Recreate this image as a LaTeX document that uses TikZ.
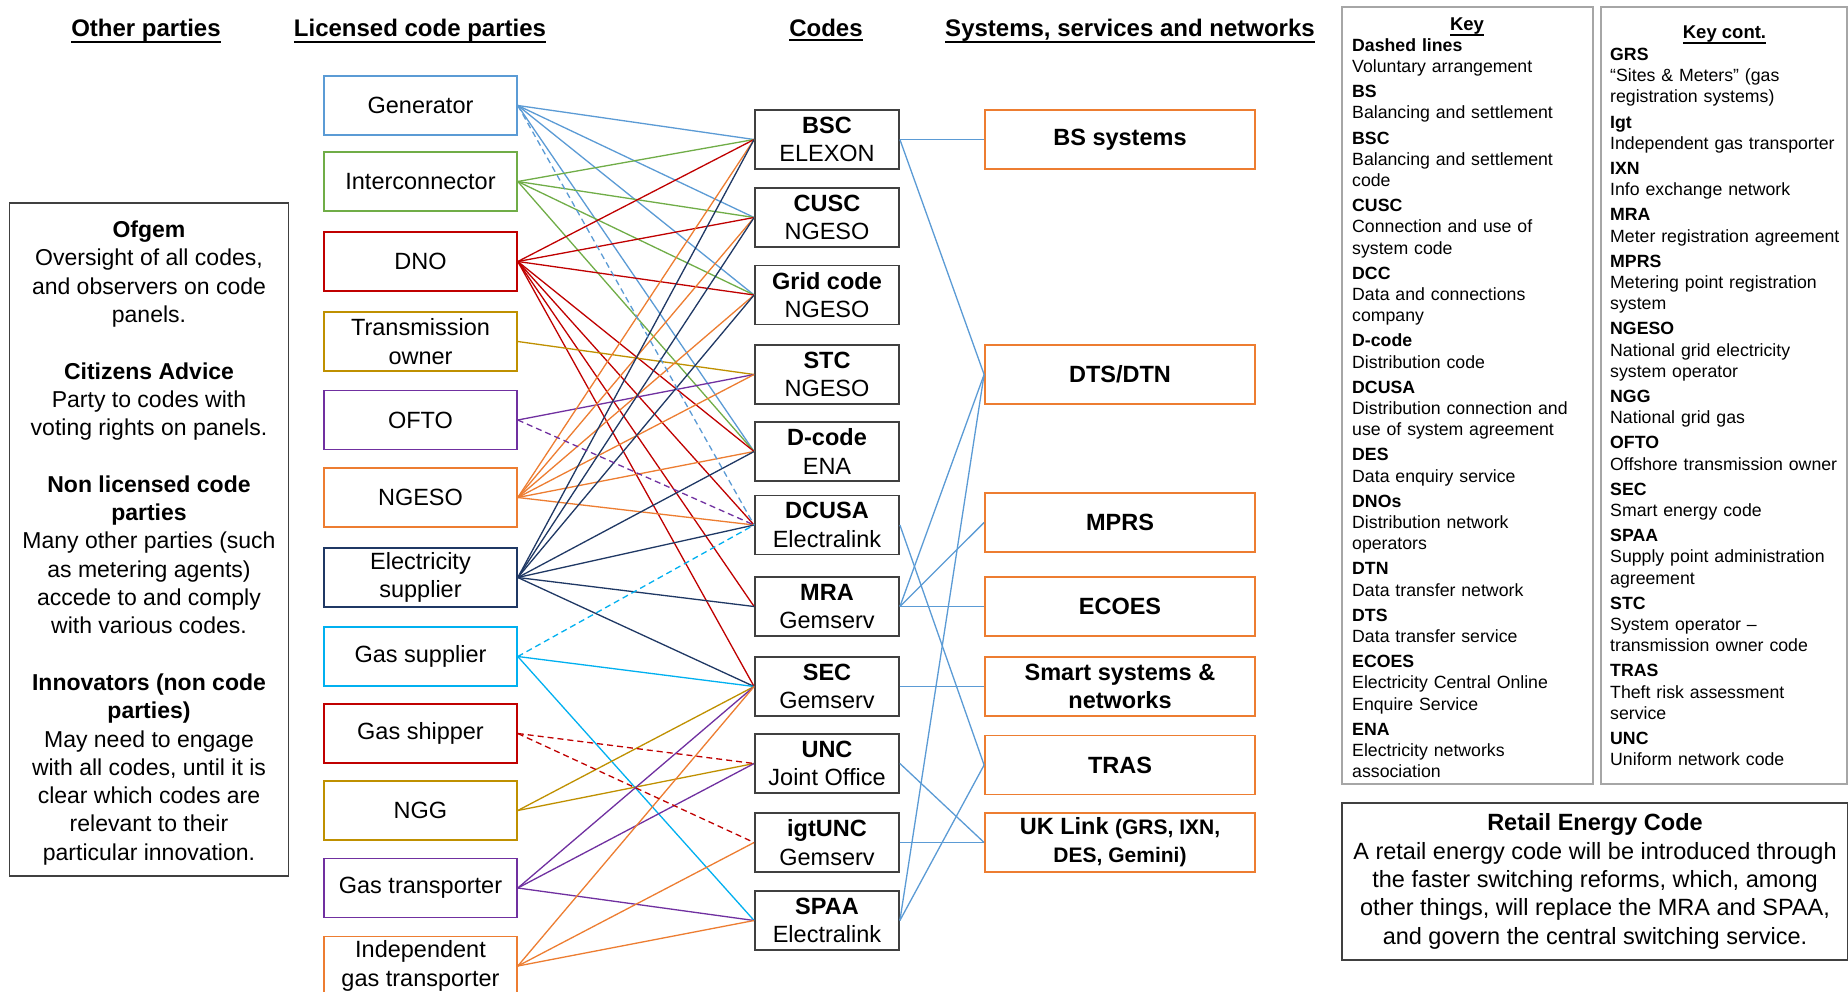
\documentclass[tikz,border=0pt]{standalone}
\usepackage{fontspec}
\setmainfont{Liberation Sans}
\usetikzlibrary{calc}
\newcommand*{\xMin}{0}
\newcommand*{\xMax}{1848}
\newcommand*{\yMin}{0}
\newcommand*{\yMax}{991}
\newcommand*{\partyX}{420.5}
\newcommand*{\codeX}{827}
\newcommand*{\sysX}{1120}
\newcommand*{\mainsize}{\fontsize{23.5}{28.3}\selectfont}
\newcommand*{\keysize}{\fontsize{17.7}{21.2}\selectfont}
\newcommand*{\ulhead}[1]{\vtop{\hbox{#1\vrule width 0pt depth 3pt}\hrule height 2pt}}

\definecolor{cBlue}{HTML}{5B9BD5}
\definecolor{cGreen}{HTML}{70AD47}
\definecolor{cRed}{HTML}{C00000}
\definecolor{cGold}{HTML}{BF9000}
\definecolor{cPurple}{HTML}{7030A0}
\definecolor{cOrange}{HTML}{ED7D31}
\definecolor{cNavy}{HTML}{1F3864}
\definecolor{cCyan}{HTML}{00B0F0}
\definecolor{cFrame}{HTML}{404040}
\definecolor{cKey}{HTML}{A6A6A6}

\tikzset{
	party/.style={draw=#1,line width=1.6pt,minimum width=193pt,minimum height=59pt,inner sep=0pt,align=center,font=\mainsize},
	codebox/.style={draw=cFrame,line width=1.8pt,minimum width=144pt,minimum height=59pt,inner sep=0pt,align=center,font=\mainsize},
	sysbox/.style={draw=cOrange,line width=1.8pt,minimum width=270pt,minimum height=59pt,inner sep=0pt,align=center,font=\mainsize\bfseries},
	linkline/.style={draw=#1,line width=1.3pt},
	voluntary/.style={linkline=#1,dash pattern=on 6pt off 4pt},
	heading/.style={anchor=base,inner sep=0pt,font=\fontsize{24}{28}\selectfont\bfseries},
	infobox/.style={draw=cFrame,line width=1.4pt,inner sep=0pt,align=center,font=\mainsize},
	keyframe/.style={draw=cKey,line width=1.4pt},
	keytext/.style={anchor=base west,inner sep=0pt,text width=260pt,align=left,font=\keysize},
}

\begin{document}
\begin{tikzpicture}[x=1pt,y=-1pt]
	\path[use as bounding box,fill=white] (\xMin,\yMin) rectangle (\xMax,\yMax);

	\node[heading] (hOther) at (146,36) {\ulhead{Other parties}};
	\node[heading] (hParty) at (420,36) {\ulhead{Licensed code parties}};
	\node[heading] (hCode) at (826,36) {\ulhead{Codes}};
	\node[heading] (hSys) at (1130,36) {\ulhead{Systems, services and networks}};

	\node[infobox,font=\fontsize{23}{28.3}\selectfont,minimum width=279pt,minimum height=673pt] (others) at (149,539.3) {\rule{0pt}{24pt}\textbf{Ofgem}\\Oversight of all codes,\\and observers on code\\panels.\\[28.3pt]\textbf{Citizens Advice}\\Party to codes with\\voting rights on panels.\\[28.3pt]\textbf{Non licensed code}\\\textbf{parties}\\Many other parties (such\\as metering agents)\\accede to and comply\\with various codes.\\[28.3pt]\textbf{Innovators (non code}\\\textbf{parties)}\\May need to engage\\with all codes, until it is\\clear which codes are\\relevant to their\\particular innovation.};

	\foreach \n/\y/\c/\txt in {gen/105.5/cBlue/Generator, ic/181.5/cGreen/Interconnector, dno/261.5/cRed/DNO, towner/341.5/cGold/{Transmission\\owner}, ofto/420/cPurple/OFTO, ngeso/497.5/cOrange/NGESO, es/577.5/cNavy/{Electricity\\supplier}, gsup/656.5/cCyan/Gas supplier, gship/733.5/cRed/Gas shipper, ngg/810.5/cGold/NGG, gt/888/cPurple/Gas transporter, igt/966/cOrange/{Independent\\gas transporter}} {
		\node[party=\c] (\n) at (\partyX,\y) {\txt};
	}

	\foreach \n/\y/\nm/\org in {bsc/139.5/BSC/ELEXON, cusc/217.5/CUSC/NGESO, grid/295/Grid code/NGESO, stc/374.5/STC/NGESO, dcode/451.5/D-code/ENA, dcusa/525/DCUSA/Electralink, mra/606.5/MRA/Gemserv, sec/686.5/SEC/Gemserv, unc/763.5/UNC/Joint Office, igtunc/842.5/igtUNC/Gemserv, spaa/920.5/SPAA/Electralink} {
		\node[codebox] (\n) at (\codeX,\y) {\textbf{\nm}\\\org};
	}

	\node[sysbox] (bs) at (\sysX,139.5) {BS systems};
	\node[sysbox] (dts) at (\sysX,374.5) {DTS/DTN};
	\node[sysbox] (mprs) at (\sysX,522.5) {MPRS};
	\node[sysbox] (ecoes) at (\sysX,606.5) {ECOES};
	\node[sysbox] (smart) at (\sysX,686.5) {Smart systems \&\\networks};
	\node[sysbox] (tras) at (\sysX,765) {TRAS};
	\node[sysbox] (uklink) at (\sysX,842.5) {UK Link {\fontsize{21}{26}\selectfont(GRS, IXN,}\\{\fontsize{21}{26}\selectfont DES, Gemini)}};

	%
	\foreach \p/\c/\l in {gen/cBlue/{bsc,cusc,grid,dcode}, ic/cGreen/{bsc,cusc,grid,dcode}, dno/cRed/{bsc,cusc,grid,dcode,dcusa,mra,sec}, towner/cGold/{stc}, ofto/cPurple/{stc}, ngeso/cOrange/{bsc,cusc,grid,stc,dcode,dcusa}, es/cNavy/{bsc,cusc,grid,dcode,dcusa,mra,sec}, gsup/cCyan/{sec,spaa}, ngg/cGold/{sec,unc}, gt/cPurple/{sec,unc,spaa}, igt/cOrange/{sec,igtunc,spaa}} {
		\foreach \q in \l {
			\draw[linkline=\c] (\p.east) -- (\q.west);
		}
	}
	\foreach \p/\q/\c in {gen/dcusa/cBlue, ofto/dcusa/cPurple, gsup/dcusa/cCyan, gship/unc/cRed, gship/igtunc/cRed} {
		\draw[voluntary=\c] (\p.east) -- (\q.west);
	}
	\foreach \q/\s in {bsc/bs, bsc/dts, mra/dts, spaa/dts, mra/mprs, mra/ecoes, sec/smart, dcusa/tras, spaa/tras, unc/uklink, igtunc/uklink} {
		\draw[linkline=cBlue] (\q.east) -- (\s.west);
	}

	%
	\draw[keyframe] (1342,7) rectangle (1593,784);
	\draw[keyframe] (1601,7) rectangle (1847,784);
	\node[heading,font=\fontsize{18.5}{22}\selectfont\bfseries] (hKey) at (1467,30) {\ulhead{Key}};
	\node[heading,font=\fontsize{18.5}{22}\selectfont\bfseries] (hKeyCont) at (1724.5,38) {\ulhead{Key cont.}};
	\node[keytext] (keyA) at (1352,51.3) {\textbf{Dashed lines}\\Voluntary arrangement\\[4pt]
		\textbf{BS}\\Balancing and settlement\\[4pt]
		\textbf{BSC}\\Balancing and settlement\\code\\[4pt]
		\textbf{CUSC}\\Connection and use of\\system code\\[4pt]
		\textbf{DCC}\\Data and connections\\company\\[4pt]
		\textbf{D-code}\\Distribution code\\[4pt]
		\textbf{DCUSA}\\Distribution connection and\\use of system agreement\\[4pt]
		\textbf{DES}\\Data enquiry service\\[4pt]
		\textbf{DNOs}\\Distribution network\\operators\\[4pt]
		\textbf{DTN}\\Data transfer network\\[4pt]
		\textbf{DTS}\\Data transfer service\\[4pt]
		\textbf{ECOES}\\Electricity Central Online\\Enquire Service\\[4pt]
		\textbf{ENA}\\Electricity networks\\association};
	\node[keytext] (keyB) at (1610,60.5) {\textbf{GRS}\\“Sites \& Meters” (gas\\registration systems)\\[4pt]
		\textbf{Igt}\\Independent gas transporter\\[4pt]
		\textbf{IXN}\\Info exchange network\\[4pt]
		\textbf{MRA}\\Meter registration agreement\\[4pt]
		\textbf{MPRS}\\Metering point registration\\system\\[4pt]
		\textbf{NGESO}\\National grid electricity\\system operator\\[4pt]
		\textbf{NGG}\\National grid gas\\[4pt]
		\textbf{OFTO}\\Offshore transmission owner\\[4pt]
		\textbf{SEC}\\Smart energy code\\[4pt]
		\textbf{SPAA}\\Supply point administration\\agreement\\[4pt]
		\textbf{STC}\\System operator –\\transmission owner code\\[4pt]
		\textbf{TRAS}\\Theft risk assessment\\service\\[4pt]
		\textbf{UNC}\\Uniform network code};

	\node[infobox,minimum width=506pt,minimum height=157pt] (retail) at (1595,881.5) {\textbf{Retail Energy Code}\\A retail energy code will be introduced through\\the faster switching reforms, which, among\\other things, will replace the MRA and SPAA,\\and govern the central switching service.};
\end{tikzpicture}
\end{document}
